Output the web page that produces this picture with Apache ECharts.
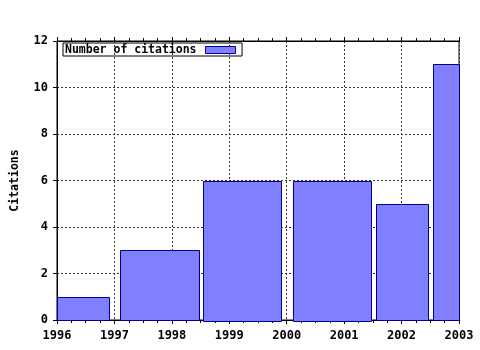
<!DOCTYPE html>
<html><head><meta charset="utf-8">
<script src="https://cdn.jsdelivr.net/npm/echarts@6/dist/echarts.min.js"></script>
<style>html,body{margin:0;padding:0;background:#fff}#c{width:480px;height:350px}</style>
</head><body><div id="c"></div>
<script>
// Data: each bar spans [startYear, endYear] with a citation count
const barStart = [1996.0, 1997.1, 1998.55, 2000.11, 2001.56, 2002.55];
const barEnd   = [1996.91, 1998.47, 1999.91, 2001.46, 2002.46, 2003.0];
const citations = [1, 3, 6, 6, 5, 11];
const seriesName = 'Number of citations';
const yTitle = 'Citations';

const FONT = 'DejaVu Sans Mono';
const fill = '#8080ff', edge = '#000090';
const data = citations.map((v, i) => [barStart[i], barEnd[i], v]);

const chart = echarts.init(document.getElementById('c'), null, {renderer: 'canvas'});
const dotted = {show: true, lineStyle: {color: '#333', width: 1, type: [2, 2]}};
chart.setOption({
  animation: false,
  grid: {left: 57, right: 21, top: 41, bottom: 30, containLabel: false, outerBoundsMode: 'none',
         show: true, borderColor: '#000', borderWidth: 1, backgroundColor: 'transparent'},
  legend: {
    left: 63, top: 43, orient: 'horizontal', align: 'right',
    padding: [1, 6, 0, 2], borderColor: '#000', borderWidth: 1,
    itemWidth: 30, itemHeight: 7, itemGap: 0,
    textStyle: {fontFamily: FONT, fontWeight: 'bold', fontSize: 11.5, color: '#000', padding: [0, 4, 0, 0]},
    data: [{name: seriesName, icon: 'rect', itemStyle: {color: fill, borderColor: edge, borderWidth: 1}}]
  },
  xAxis: [{
    type: 'value', min: 1996, max: 2003, interval: 1,
    axisLine: {show: true, onZero: false, lineStyle: {color: '#000'}},
    axisTick: {show: true, inside: false, length: 4, lineStyle: {color: '#000'}},
    minorTick: {show: true, splitNumber: 4, length: 3, lineStyle: {color: '#000'}},
    axisLabel: {margin: 10, fontFamily: FONT, fontWeight: 'bold', fontSize: 12, color: '#000', formatter: v => String(v)},
    splitLine: dotted
  }, {
    type: 'value', position: 'top', min: 1996, max: 2003, interval: 1,
    axisLine: {show: true, onZero: false, lineStyle: {color: '#000'}},
    axisTick: {show: true, inside: false, length: 4, lineStyle: {color: '#000'}},
    minorTick: {show: true, splitNumber: 4, length: 3, lineStyle: {color: '#000'}},
    axisLabel: {show: false}, splitLine: {show: false}
  }],
  yAxis: {
    type: 'value', min: 0, max: 12, interval: 2,
    name: yTitle, nameLocation: 'middle', nameGap: 36, nameRotate: 90,
    nameTextStyle: {fontFamily: FONT, fontWeight: 'bold', fontSize: 11.5, color: '#000'},
    axisLine: {show: true, lineStyle: {color: '#000'}},
    axisTick: {show: true, inside: false, length: 4, lineStyle: {color: '#000'}},
    axisLabel: {margin: 9, fontFamily: FONT, fontWeight: 'bold', fontSize: 12, color: '#000'},
    splitLine: dotted
  },
  series: [{
    type: 'custom', name: seriesName, xAxisIndex: 0, yAxisIndex: 0,
    itemStyle: {color: fill, borderColor: edge, borderWidth: 1},
    encode: {x: [0, 1], y: 2},
    renderItem: function (params, api) {
      const p0 = api.coord([api.value(0), api.value(2)]);
      const p1 = api.coord([api.value(1), 0]);
      return {
        type: 'rect',
        shape: {x: Math.round(p0[0]) + 0.5, y: Math.round(p0[1]) + 0.5, width: Math.round(p1[0] - p0[0]), height: Math.round(p1[1] - p0[1])},
        style: {fill: fill, stroke: edge, lineWidth: 1}
      };
    },
    data: data
  }]
});
</script></body></html>
